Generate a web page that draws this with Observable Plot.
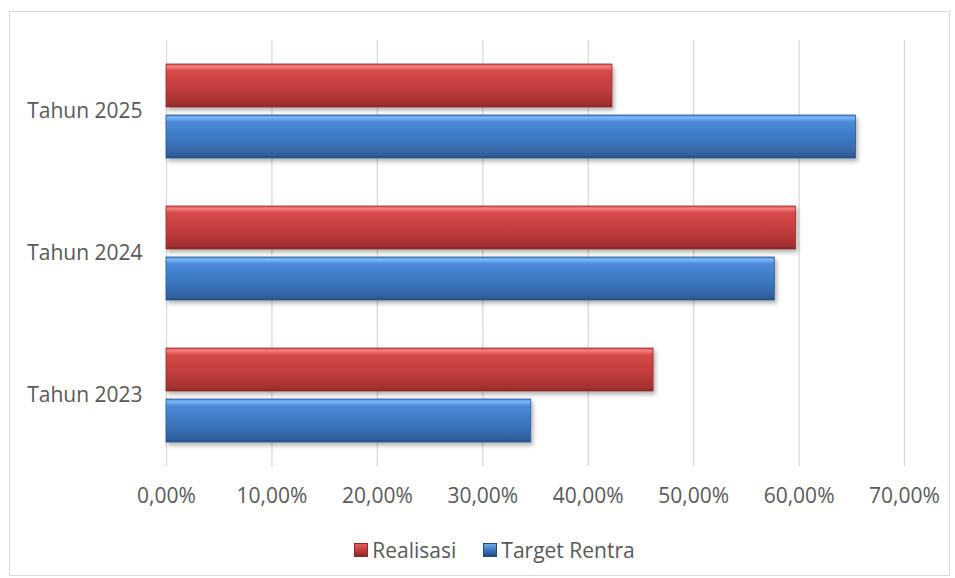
<!DOCTYPE html>
<html><head><meta charset="utf-8">
<script src="https://cdn.jsdelivr.net/npm/d3@7"></script>
<script src="https://cdn.jsdelivr.net/npm/@observablehq/plot@0.6"></script>
<style>
body{margin:0;background:#fff;font-family:"Open Sans",sans-serif;}
#frame{position:absolute;left:9px;top:11px;width:941px;height:565px;border:1px solid #d9d9d9;box-sizing:border-box;}
#chart{position:absolute;left:0;top:0;}
#legend{position:absolute;left:0;right:0;top:523px;display:flex;justify-content:center;gap:27px;padding-left:30px;font-size:21px;color:#595959;line-height:30px;}
.item{display:flex;align-items:center;gap:4px;}
.sw{width:14px;height:14px;display:inline-block;box-sizing:border-box;}
.sw.r{background:linear-gradient(#e45a5a,#c43d3d 50%,#8c2a2a);border:1px solid #8c2a2a;}
.sw.b{background:linear-gradient(#6fa8ea,#3c78c2 50%,#244a7c);border:1px solid #244a7c;}
</style></head>
<body>
<div id="frame"><div id="chart"></div>
<div id="legend"><span class="item"><span class="sw r"></span>Realisasi</span><span class="item"><span class="sw b"></span>Target Rentra</span></div>
</div>
<script>
const years = ["2025", "2024", "2023"];
const series = ["Realisasi", "Target Rentra"];
const realisasi = [42.3, 59.7, 46.2];
const target = [65.4, 57.7, 34.6];
const xTicks = [0, 10, 20, 30, 40, 50, 60, 70];

const dataR = years.map((y, i) => ({year: y, series: series[0], value: realisasi[i]}));
const dataT = years.map((y, i) => ({year: y, series: series[1], value: target[i]}));

const fmt = d => d.toFixed(2).replace(".", ",") + "%";

const svg = Plot.plot({
  width: 939, height: 512,
  marginLeft: 156, marginRight: 45, marginTop: 28, marginBottom: 58,
  style: {fontSize: "21px", color: "#595959", fontFamily: "Open Sans, sans-serif", background: "transparent"},
  x: {domain: [0, 70], ticks: xTicks, tickFormat: fmt, tickSize: 0, tickPadding: 22, label: null},
  y: {domain: series, axis: null, paddingInner: 0.165, paddingOuter: 0.46},
  fy: {domain: years, padding: 0, axis: "left", tickFormat: d => "Tahun " + d, tickSize: 0, tickPadding: 24, label: null},
  marks: [
    Plot.ruleX(xTicks, {stroke: "#d9d9d9", strokeWidth: 1.3}),
    Plot.barX(dataR, {x: "value", y: "series", fy: "year", fill: "url(#gRed)", stroke: "#9a2d2d", strokeWidth: 0.8}),
    Plot.barX(dataT, {x: "value", y: "series", fy: "year", fill: "url(#gBlue)", stroke: "#2c5a92", strokeWidth: 0.8})
  ]
});

const s = d3.select(svg);
const defs = s.insert("defs", ":first-child");
function grad(id, stops) {
  const g = defs.append("linearGradient").attr("id", id).attr("x1", 0).attr("y1", 0).attr("x2", 0).attr("y2", 1);
  stops.forEach(([o, c]) => g.append("stop").attr("offset", o).attr("stop-color", c));
}
grad("gRed", [[0, "#d94f4f"], [0.06, "#f58080"], [0.16, "#d64848"], [0.55, "#c43d3d"], [0.82, "#ad3434"], [0.95, "#9c2f2f"], [1, "#7d2424"]]);
grad("gBlue", [[0, "#4a8ad6"], [0.06, "#7cb8f6"], [0.16, "#4b8ad8"], [0.55, "#3c78c2"], [0.82, "#3668a9"], [0.95, "#2f5c99"], [1, "#244a7c"]]);
const f = defs.append("filter").attr("id", "shadow").attr("x", "-5%").attr("y", "-20%").attr("width", "115%").attr("height", "160%");
f.append("feDropShadow").attr("dx", 2).attr("dy", 3).attr("stdDeviation", 2).attr("flood-color", "#000").attr("flood-opacity", 0.3);
s.selectAll("g[aria-label='bar'] rect").attr("filter", "url(#shadow)");

document.getElementById("chart").appendChild(svg);
</script>
</body></html>
